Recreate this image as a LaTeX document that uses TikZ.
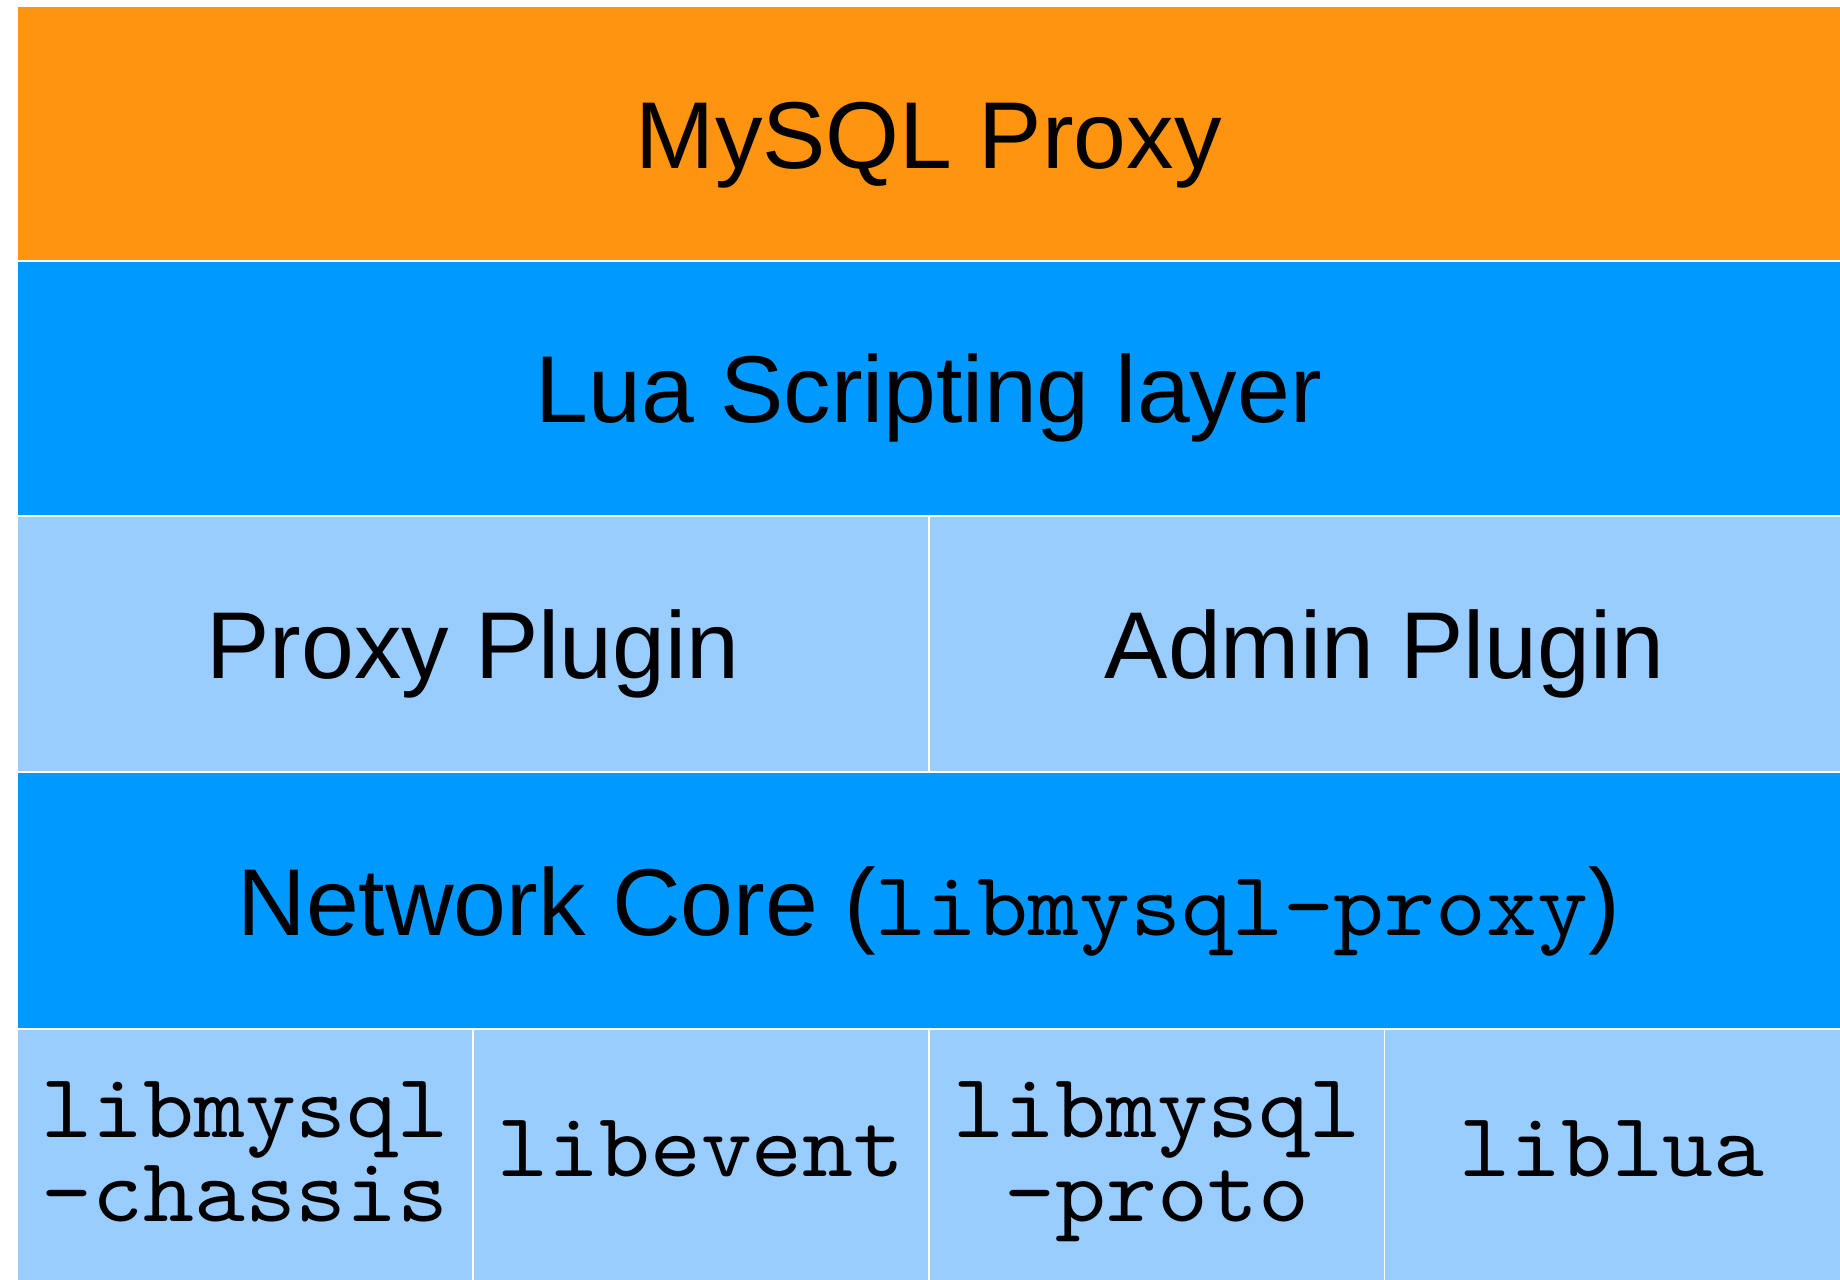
\documentclass[tikz,border=0pt]{standalone}
\usepackage{fontspec}
\setmainfont{Liberation Sans}
\setmonofont{lmmono10-regular.otf}[FakeStretch=1.06]
\usepackage{tikz}

\definecolor{proxyorange}{HTML}{FF9411}
\definecolor{layerblue}{HTML}{0099FF}
\definecolor{pluginblue}{HTML}{99CCFF}

\newcommand{\libtt}[1]{{\ttfamily\fontsize{26}{24}\selectfont #1}}

\tikzset{
  layerbox/.style={draw=white, line width=0.3pt},
  layertext/.style={font=\fontsize{27}{24}\selectfont, anchor=base},
  libtext/.style={font=\ttfamily\fontsize{26}{24}\selectfont, anchor=base},
}

\begin{document}
\begin{tikzpicture}[x=0.01cm,y=-0.01cm]
\path [use as bounding box] (0,0) rectangle (1840,1279);
\fill [white] (0,0) rectangle (1840,1279);
% layers
\draw [layerbox, fill=proxyorange] (17.5,6)   rectangle (1840,261);
\draw [layerbox, fill=layerblue]   (17.5,261) rectangle (1840,516);
\draw [layerbox, fill=pluginblue]  (17.5,516) rectangle (929,772);
\draw [layerbox, fill=pluginblue]  (929,516)  rectangle (1840,772);
\draw [layerbox, fill=layerblue]   (17.5,772) rectangle (1840,1029);
\foreach \xa/\xb in {17.5/473, 473/929, 929/1384.5, 1384.5/1840}
  \draw [layerbox, fill=pluginblue] (\xa,1029) rectangle (\xb,1290);
% texts
\node [layertext] (proxy)   at (928.75,169) {MySQL Proxy};
\node [layertext] (lua)     at (928.75,422) {Lua Scripting layer};
\node [layertext] (pplugin) at (473,678)    {Proxy Plugin};
\node [layertext] (aplugin) at (1384.5,678) {Admin Plugin};
\node [layertext] (core)    at (928.75,935) {Network Core (\libtt{libmysql-proxy})};
\node [libtext] (chassis) at (245,1137)  {\begin{tabular}[t]{@{}c@{}}libmysql\\-chassis\end{tabular}};
\node [libtext] (event)   at (701,1176)  {libevent};
\node [libtext] (proto)   at (1157,1137) {\begin{tabular}[t]{@{}c@{}}libmysql\\-proto\end{tabular}};
\node [libtext] (lualib)  at (1612,1176) {liblua};
\end{tikzpicture}
\end{document}
